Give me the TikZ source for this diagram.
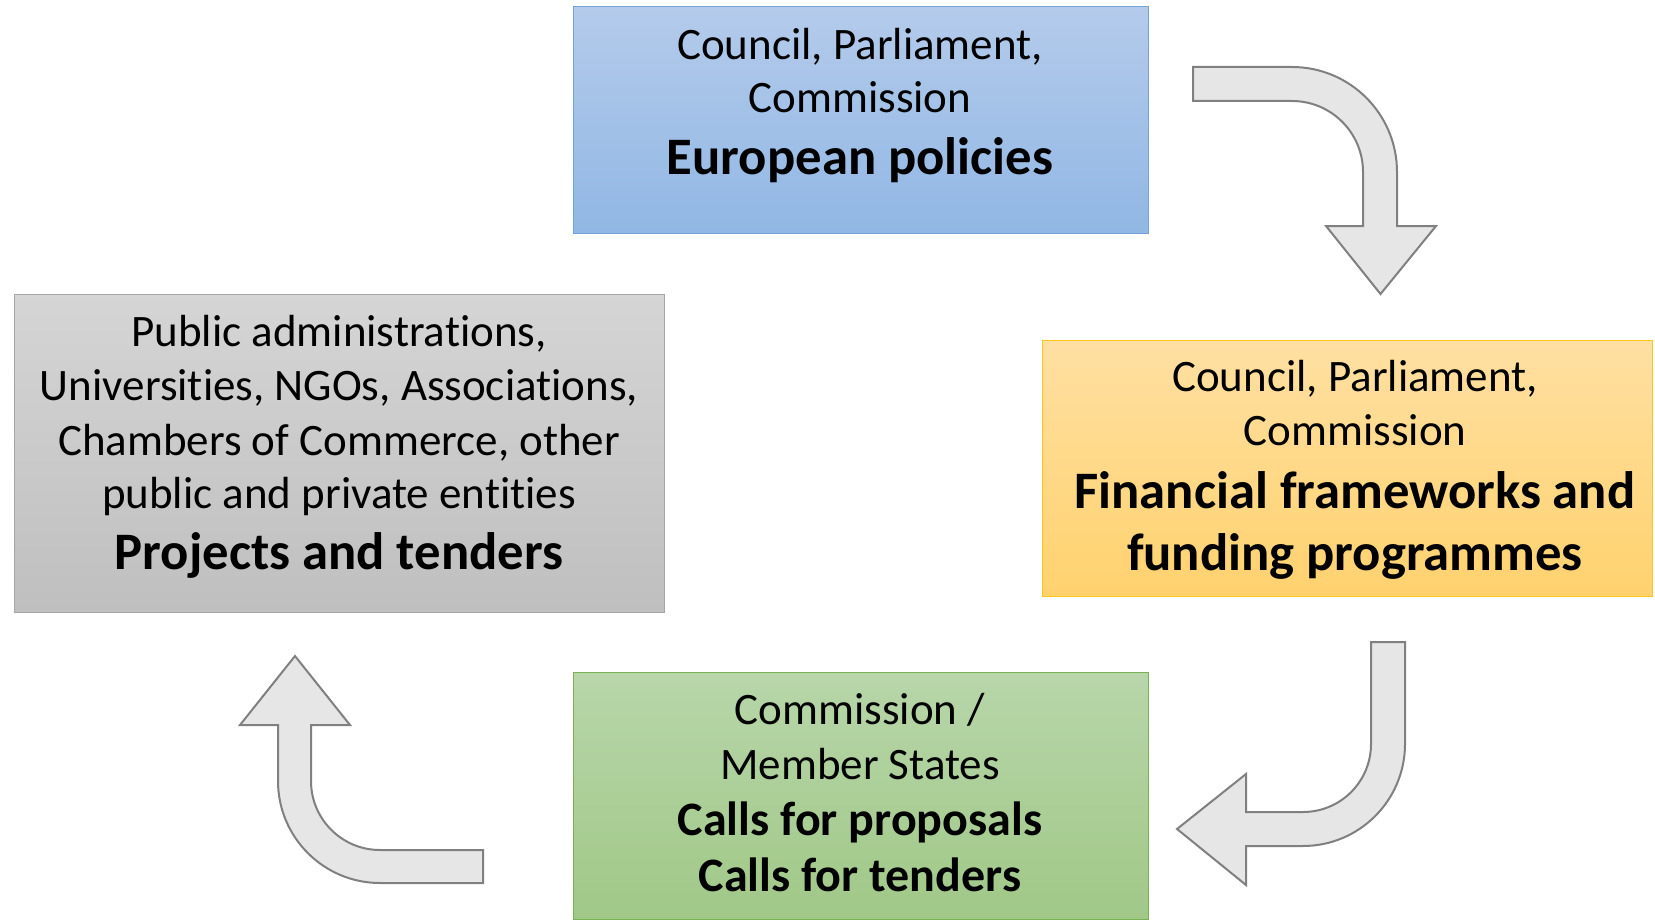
\documentclass[tikz,border=0pt]{standalone}
\usepackage{fontspec}
\setmainfont{Carlito}[Ligatures={NoCommon,NoContextual,NoRequired}, Contextuals=NoAlternate]

\tikzset{every picture/.style={line width=0.75pt}}
\tikzset{
  box/.style={draw, rectangle, inner sep=0pt, outer sep=0pt},
  txt/.style={inner sep=0pt, anchor=base, font=\fontsize{33.75}{40}\selectfont},
  bigtxt/.style={inner sep=0pt, anchor=base, font=\fontsize{39.5}{47}\selectfont\bfseries},
  midtxt/.style={inner sep=0pt, anchor=base, font=\fontsize{36}{43}\selectfont\bfseries},
  bentarrow/.style={draw={rgb, 255:red, 128; green, 128; blue, 128}, fill={rgb, 255:red, 230; green, 230; blue, 230}, line width=1.5pt, line join=miter}
}

\begin{document}
\begin{tikzpicture}[x=0.75pt,y=0.75pt,yscale=-1,xscale=1]
\useasboundingbox (0,0) rectangle (1655,920);

%Shape: Rectangle
\node [box, draw={rgb, 255:red, 118; green, 162; blue, 218}, top color={rgb, 255:red, 180; green, 203; blue, 235}, bottom color={rgb, 255:red, 145; green, 183; blue, 228}, minimum width=431.25pt, minimum height=169.5pt] (polbox) at (860.5,120) {};
%Shape: Rectangle
\node [box, draw={rgb, 255:red, 255; green, 196; blue, 30}, top color={rgb, 255:red, 255; green, 224; blue, 163}, bottom color={rgb, 255:red, 255; green, 210; blue, 110}, minimum width=457.5pt, minimum height=192pt] (finbox) at (1347,468) {};
%Shape: Rectangle
\node [box, draw={rgb, 255:red, 120; green, 178; blue, 82}, top color={rgb, 255:red, 184; green, 214; blue, 170}, bottom color={rgb, 255:red, 160; green, 200; blue, 135}, minimum width=431.25pt, minimum height=185.25pt] (callbox) at (860.5,795.5) {};
%Shape: Rectangle
\node [box, draw={rgb, 255:red, 166; green, 166; blue, 166}, top color={rgb, 255:red, 213; green, 213; blue, 213}, bottom color={rgb, 255:red, 191; green, 191; blue, 191}, minimum width=487.5pt, minimum height=238.5pt] (projbox) at (339,453) {};

%Shape: Bent Arrow
\draw [bentarrow] (1193,67) -- (1292,67) .. controls (1350,67) and (1397,114) .. (1397,172) -- (1397,226) -- (1436,226) -- (1380.5,294) -- (1326,226) -- (1363,226) -- (1363,172) .. controls (1363,132.8) and (1331.2,101) .. (1292,101) -- (1193,101) -- cycle ;
%Shape: Bent Arrow
\draw [bentarrow] (1371,642) -- (1405,642) -- (1405,744) .. controls (1405,800.3) and (1359.3,846) .. (1303,846) -- (1246,846) -- (1246,885) -- (1177,829) -- (1246,774) -- (1246,812) -- (1303,812) .. controls (1340.6,812) and (1371,781.6) .. (1371,744) -- cycle ;
%Shape: Bent Arrow
\draw [bentarrow] (483,850) -- (380,850) .. controls (341.9,850) and (311,819.1) .. (311,781) -- (311,725) -- (350,725) -- (295,656) -- (240,725) -- (278,725) -- (278,781) .. controls (278,837.3) and (323.7,883) .. (380,883) -- (483,883) -- cycle ;

% Text Node
\node [txt] (pol1) at (860,59.3) {Council, Parliament,};
% Text Node
\node [txt] (pol2) at (860,112.7) {Commission};
% Text Node
\node [bigtxt] (pol3) at (860,175) {European policies};

% Text Node
\node [txt] (fin1) at (1355,391.7) {Council, Parliament,};
% Text Node
\node [txt] (fin2) at (1355,445) {Commission};
% Text Node
\node [bigtxt] (fin3) at (1355,508.3) {Financial frameworks and};
% Text Node
\node [bigtxt] (fin4) at (1355,570) {funding programmes};

% Text Node
\node [txt] (call1) at (860,724) {Commission /};
% Text Node
\node [txt] (call2) at (860,779) {Member States};
% Text Node
\node [midtxt] (call3) at (860,835.7) {Calls for proposals};
% Text Node
\node [midtxt] (call4) at (860,891.7) {Calls for tenders};

% Text Node
\node [txt] (proj1) at (339,346) {Public administrations,};
% Text Node
\node [txt] (proj2) at (339,400) {Universities, NGOs, Associations,};
% Text Node
\node [txt] (proj3) at (339,455) {Chambers of Commerce, other};
% Text Node
\node [txt] (proj4) at (339,508.3) {public and private entities};
% Text Node
\node [bigtxt] (proj5) at (339,569.3) {Projects and tenders};

\end{tikzpicture}
\end{document}
